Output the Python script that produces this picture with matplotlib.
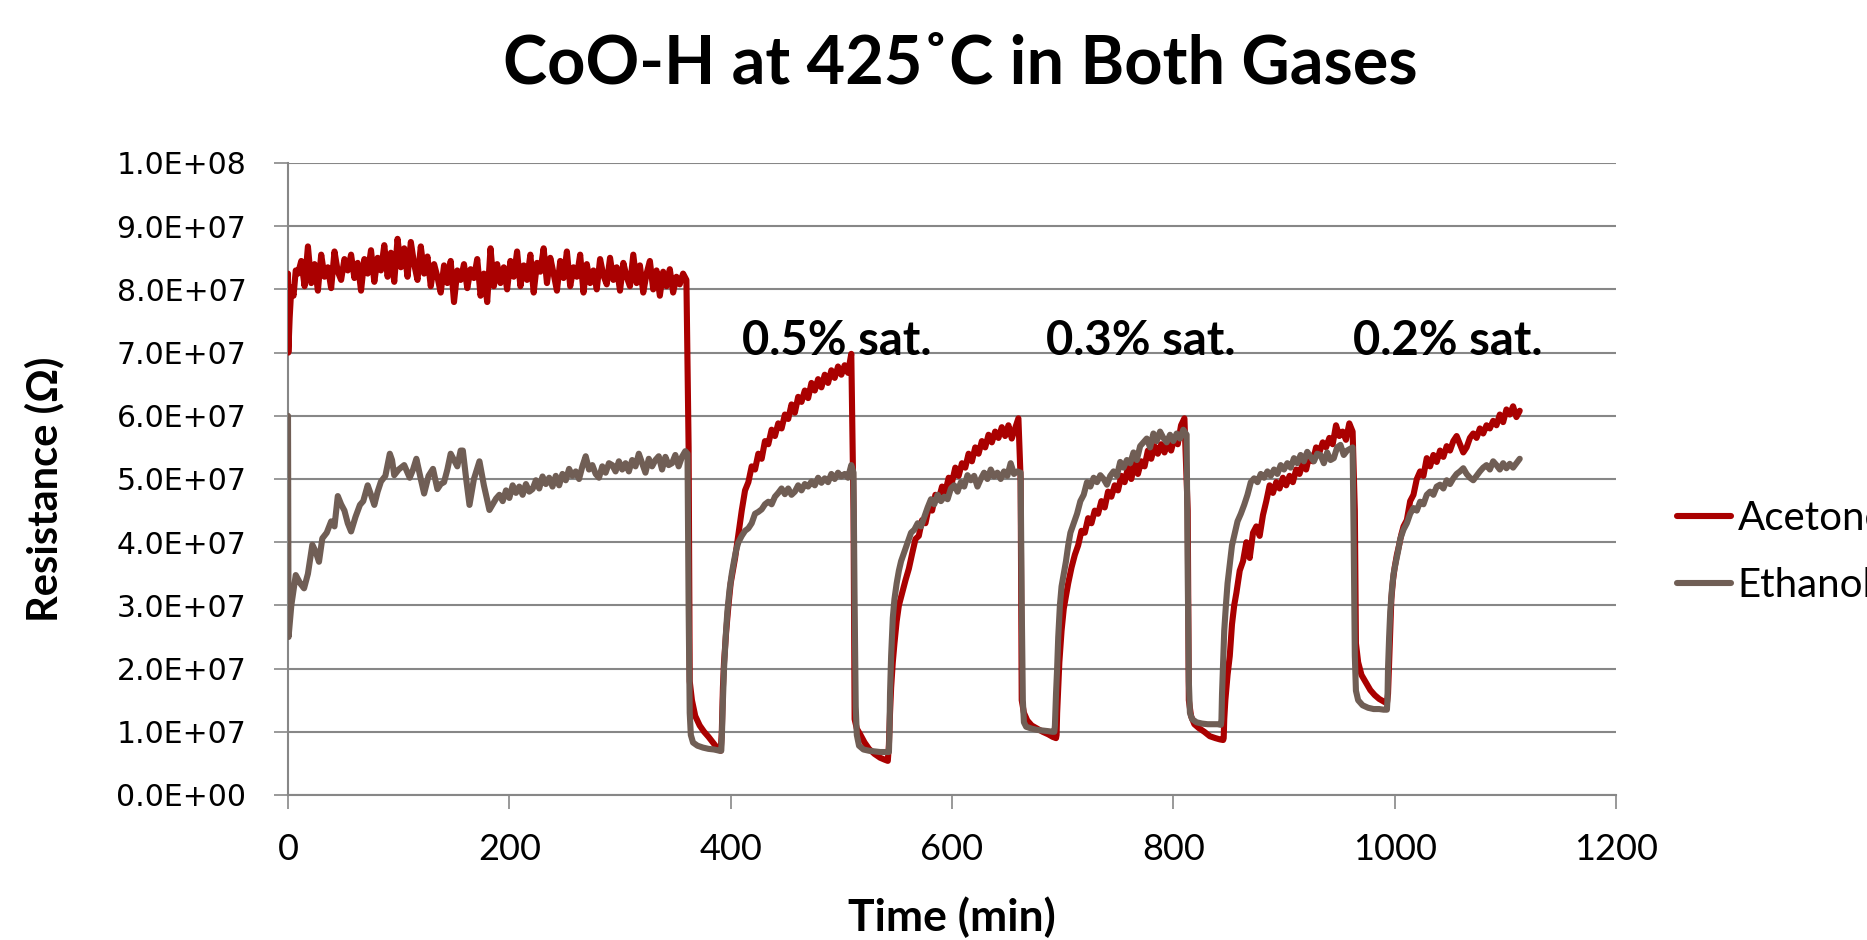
import numpy as np
import matplotlib
matplotlib.use('Agg')
import matplotlib.pyplot as plt

# ---------------- data (resistance in MOhm, time in min) ----------------
ace_start_t = [0, 0.3, 1.5, 3, 5, 7]
ace_start_v = [82.5, 70.0, 75.5, 80.3, 79.0, 83.0]
ace_plateau_span = (9, 360)
ace_plateau_v = [82.5, 84.5, 80.5, 86.8, 81.0, 84.0, 79.8, 85.5, 82.0, 83.5, 80.2, 86.0, 82.8, 81.5, 84.8,
                 83.0, 85.5, 81.8, 84.2, 79.8, 84.8, 82.5, 86.2, 81.2, 85.0, 83.0, 87.0, 82.0, 85.8, 81.2,
                 88.0, 83.5, 86.5, 82.0, 87.5, 84.0, 81.5, 86.8, 82.5, 85.2, 80.5, 84.0, 82.0,
                 79.5, 83.8, 81.0, 84.5, 78.0, 83.0, 81.5, 84.0, 80.2, 83.2, 81.8, 84.8, 79.0, 82.5, 78.0,
                 86.5, 80.5, 84.0, 81.0, 83.5,
                 80.0, 84.5, 82.0, 86.0, 80.5, 83.8, 81.5, 85.5, 79.5, 84.2, 82.8, 86.5, 81.0, 85.0, 82.5,
                 79.8, 84.5, 81.8, 86.0, 80.5, 83.5, 82.0,
                 85.5, 79.5, 84.0, 81.0, 83.0, 80.0, 84.8, 82.2, 80.8, 85.0, 81.5, 83.5, 79.8, 84.2, 82.0,
                 80.5, 85.5, 81.0, 83.8, 79.5, 82.5, 84.5, 80.0, 83.0, 79.0, 82.8, 80.5, 83.2, 79.5, 82.0,
                 80.8, 82.5, 81.5]

# cycle 1
ace_low1_t = [362, 363, 365, 368, 372, 376, 380, 384, 388, 391]
ace_low1_v = [55, 18, 15, 12.5, 11, 10, 9.2, 8.3, 7.4, 7.0]
ace_rise1_t = [392, 393, 394, 396, 398, 400, 402, 404, 406, 408]
ace_rise1_v = [10, 17, 21, 26, 30, 33.5, 35.5, 37.5, 40, 42.5]
ace_slow1_span = (410, 509)
ace_slow1_v = [45.0, 48.2, 49.5, 52.0, 51.5, 54.0, 53.2, 56.0, 55.5, 57.8, 56.8, 58.8, 58.0, 60.2, 59.5,
               61.8, 60.5, 63.0, 62.2, 64.0, 62.8, 65.2, 64.0, 65.8, 64.5, 66.5, 65.2, 67.2, 66.0, 67.8,
               66.5, 68.0, 66.8, 69.8]
# cycle 2
ace_low2_t = [511, 512, 514, 517, 521, 525, 530, 535, 539, 542]
ace_low2_v = [45, 12, 10.5, 9.6, 8.3, 7.3, 6.5, 5.9, 5.6, 5.4]
ace_rise2_t = [543, 544, 545, 546.5, 548, 550, 552, 555, 558, 561]
ace_rise2_v = [8, 13, 17, 21, 24, 27.5, 30, 32, 34, 35.8]
ace_slow2_span = (564, 660)
ace_slow2_v = [38.2, 40.5, 41.0, 43.5, 43.0, 45.5, 45.0, 47.5, 46.8, 48.8, 48.0, 50.2, 49.5, 51.8, 50.5,
               52.5, 51.8, 54.0, 52.8, 55.0, 54.0, 56.0, 55.0, 57.0, 55.8, 57.5, 56.5, 58.2, 56.8, 58.5,
               56.4, 58.0, 59.6]
# cycle 3
ace_low3_t = [662, 663, 665, 668, 672, 677, 682, 687, 691, 694]
ace_low3_v = [50, 15, 13, 11.8, 11, 10.5, 10, 9.6, 9.2, 9.0]
ace_rise3_t = [694.5, 695, 696, 697, 699, 701, 703, 705, 708, 711]
ace_rise3_v = [9.5, 13, 17, 21, 26, 29.5, 31.5, 33.5, 36, 38]
ace_slow3_span = (714, 810)
ace_slow3_v = [39.5, 41.8, 41.5, 43.8, 43.0, 45.0, 44.5, 46.5, 45.5, 48.0, 47.2, 49.0, 48.2, 50.5, 49.5,
               51.8, 50.0, 52.5, 50.8, 52.8, 52.0, 54.5, 53.2, 55.2, 54.0, 55.5, 54.2, 55.8, 54.5, 56.5,
               55.5, 58.5, 59.6]
# cycle 4
ace_low4_t = [813, 814, 816, 819, 823, 828, 833, 838, 842, 845]
ace_low4_v = [45, 15, 12.5, 11.2, 10.6, 10, 9.3, 9.0, 8.8, 8.7]
ace_rise4_t = [845.5, 846, 847, 849, 851, 853, 855, 857, 860, 863]
ace_rise4_v = [9, 12, 15, 19, 22, 27, 30, 32, 35.5, 37]
ace_slow4_span = (866, 962)
ace_slow4_v = [40.0, 37.5, 41.5, 42.5, 41.0, 44.3, 46.5, 49.0, 47.8, 49.5, 48.5, 50.2, 49.0, 50.5, 49.5,
               51.5, 50.8, 52.5, 51.5, 53.8, 52.8, 55.0, 54.2, 55.8, 55.0, 56.5, 55.5, 58.5, 56.8, 57.5,
               56.2, 58.8, 57.5]
# cycle 5
ace_low5_t = [964, 965, 967, 970, 974, 978, 982, 986, 990, 993]
ace_low5_v = [45, 24, 21, 19, 17.8, 16.6, 15.8, 15.2, 14.8, 14.5]
ace_rise5_t = [994, 995, 996, 997, 998.5, 1000, 1002, 1004, 1006, 1008]
ace_rise5_v = [16, 21, 26, 31, 34, 36, 38, 39.5, 41.2, 42.5]
ace_slow5_span = (1011, 1113)
ace_slow5_v = [43.5, 46.5, 47.5, 50.0, 51.2, 50.5, 53.3, 52.0, 53.8, 52.7, 54.5, 53.5, 55.2, 54.5, 56.0,
               56.8, 55.5, 54.2, 55.0, 56.5, 57.2, 56.5, 58.0, 57.2, 58.5, 58.0, 59.2, 58.5, 60.2, 59.0,
               61.0, 60.2, 61.5, 59.8, 60.8]

# Ethanol
eth_early_t = [0, 0.5, 3, 7, 11, 14.5, 18, 22, 25, 28, 31, 35, 39, 42, 45, 48, 51, 54, 57, 61,
               65, 68, 72, 75, 78, 81, 84, 88, 92, 94, 96, 100, 105, 108, 110, 113, 116, 120, 123, 127,
               131, 133, 135, 138, 141, 144, 147, 150, 153, 156, 158, 161, 164, 168, 173, 177, 182, 185, 188]
eth_early_v = [60, 25, 30, 34.8, 33.5, 32.7, 35, 39.6, 38.5, 36.9, 40.6, 41.5, 43.3, 42.5, 47.3, 46, 45, 43, 41.7, 44,
               45.9, 46.5, 49, 47.5, 45.9, 48, 49.6, 50.5, 54, 53, 50.6, 51.5, 52.2, 51, 50.2, 51.5, 53.2, 50, 47.7, 50.5,
               51.6, 50, 48.4, 49.2, 49.5, 51.5, 54, 53, 52, 54.5, 54.5, 50, 45.9, 50, 52.8, 49, 45.1, 46, 46.9]
eth_late_span = (191, 359)
eth_late_v = [47.5, 46.5, 48.2, 47.0, 49.0, 47.8, 48.8, 47.5, 49.2, 48.0, 48.4, 49.8, 48.5, 50.4, 49.2,
              50.2, 48.8, 50.5, 49.0, 50.8, 49.8, 51.6, 50.5, 51.2, 50.0, 52.0, 53.6, 51.5, 52.2, 50.8,
              50.2, 52.0, 51.0, 52.5, 52.2, 51.2, 52.8, 51.5, 52.5, 51.2, 53.0, 52.0, 54.0, 52.5, 51.0,
              53.2, 52.0, 53.0, 53.6, 51.5, 53.5, 52.2, 52.5, 53.8, 52.0, 53.5, 54.4]
eth_low1_t = [361, 362, 363, 364, 366, 370, 375, 380, 385, 390, 391.5]
eth_low1_v = [54, 30, 13, 9.5, 8.3, 7.8, 7.5, 7.3, 7.2, 7.0, 7.0]
eth_rise1_t = [392, 393, 394, 395.5, 397, 399, 401, 403, 405, 407]
eth_rise1_v = [9, 15, 20, 25, 29, 32.5, 35, 37, 38.8, 40]
eth_slow1_span = (410, 509)
eth_slow1_v = [41.0, 41.8, 42.2, 43.0, 44.5, 44.8, 45.2, 46.0, 46.4, 46.0, 47.2, 47.8, 48.5, 47.6, 48.5,
               47.5, 48.0, 49.0, 48.2, 49.2, 48.8, 49.6, 49.0, 50.2, 49.4, 50.1, 49.5, 50.8, 50.0, 51.0,
               50.4, 50.8, 50.2, 52.2]
eth_low2_t = [511, 512, 513, 514, 516, 520, 525, 530, 535, 540, 543]
eth_low2_v = [51, 30, 14, 9.5, 7.8, 7.2, 7.0, 6.9, 6.8, 6.8, 6.8]
eth_rise2_t = [543.5, 544, 545, 546.5, 548, 550, 552, 554, 557, 560]
eth_rise2_v = [10, 16, 22, 28, 31, 33.5, 35.5, 37, 38.5, 40]
eth_slow2_span = (563, 659)
eth_slow2_v = [41.5, 42.0, 43.0, 42.5, 44.0, 45.5, 46.8, 46.0, 47.5, 46.5, 47.2, 46.8, 48.5, 49.0, 48.0,
               49.5, 48.8, 50.6, 49.8, 50.5, 48.8, 50.0, 51.0, 50.0, 51.5, 50.4, 51.0, 50.0, 51.2, 50.5,
               52.5, 50.8, 51.2]
eth_low3_t = [662, 663, 664, 665, 667, 672, 677, 682, 687, 691, 692.5]
eth_low3_v = [51, 30, 15, 11.5, 10.8, 10.5, 10.3, 10.2, 10.1, 10.0, 10.0]
eth_rise3_t = [693, 694, 695, 696, 697.5, 699, 701, 703, 705, 707]
eth_rise3_v = [11, 16, 20, 25, 30, 33, 35, 37, 39.5, 41.5]
eth_slow3_span = (710, 809)
eth_slow3_v = [43.0, 44.5, 46.5, 47.5, 49.5, 48.8, 50.2, 49.5, 50.6, 50.0, 49.1, 50.5, 51.2, 50.5, 52.7,
               51.8, 53.0, 52.5, 54.2, 53.0, 55.2, 55.8, 56.4, 55.0, 57.2, 56.0, 57.5, 56.5, 55.8, 57.0,
               56.0, 57.2, 56.4, 57.8]
eth_low4_t = [812, 813, 814, 815, 817, 821, 826, 831, 836, 840, 843]
eth_low4_v = [57, 35, 18, 13, 12, 11.5, 11.3, 11.2, 11.2, 11.2, 11.1]
eth_rise4_t = [843.5, 844, 845, 846, 847.5, 849, 851, 853, 855, 858]
eth_rise4_v = [12, 16, 21, 26, 30, 33.5, 36.5, 39.5, 41, 43.3]
eth_slow4_span = (861, 960)
eth_slow4_v = [44.5, 45.9, 47.5, 49.5, 50.1, 49.5, 50.8, 50.2, 51.2, 50.5, 51.5, 50.8, 52.2, 51.5, 52.5,
               51.8, 53.3, 52.5, 53.8, 52.8, 54.3, 53.5, 52.8, 54.0, 53.8, 52.5, 54.2, 53.0, 53.3, 55.0,
               55.4, 53.8, 54.5, 54.8]
eth_low5_t = [962, 963, 964, 965, 967, 971, 976, 981, 986, 990, 993]
eth_low5_v = [55, 40, 22, 16.5, 15, 14.2, 13.8, 13.6, 13.6, 13.5, 13.5]
eth_rise5_t = [993.5, 994, 995, 996, 997.5, 999, 1001, 1003, 1005, 1008]
eth_rise5_v = [15, 20, 25, 29, 32.5, 35, 36.8, 38.5, 40.5, 42]
eth_slow5_span = (1011, 1113)
eth_slow5_v = [43.0, 44.5, 45.4, 45.0, 46.4, 46.0, 47.5, 48.0, 47.5, 48.8, 49.1, 48.5, 49.8, 49.2, 50.1,
               50.8, 51.2, 51.7, 50.8, 50.2, 49.8, 50.5, 51.2, 51.8, 52.2, 51.5, 52.8, 52.2, 51.5, 52.5,
               51.7, 52.4, 51.8, 52.5, 53.2]

series_names = ['Acetone', 'Ethanol']
annot_labels = ['0.5% sat.', '0.3% sat.', '0.2% sat.']
annot_t = [496, 771, 1048]
annot_v = [71.9, 71.9, 71.9]
x_ticks = [0, 200, 400, 600, 800, 1000, 1200]
y_ticks = [0, 10, 20, 30, 40, 50, 60, 70, 80, 90, 100]


def build(segments):
    ts, vs = [], []
    for t, v in segments:
        if isinstance(t, tuple):
            t = np.linspace(t[0], t[1], len(v))
        ts.append(np.asarray(t, float))
        vs.append(np.asarray(v, float))
    return np.concatenate(ts), np.concatenate(vs) * 1e6


ace_t, ace_r = build([
    (ace_start_t, ace_start_v), (ace_plateau_span, ace_plateau_v),
    (ace_low1_t, ace_low1_v), (ace_rise1_t, ace_rise1_v), (ace_slow1_span, ace_slow1_v),
    (ace_low2_t, ace_low2_v), (ace_rise2_t, ace_rise2_v), (ace_slow2_span, ace_slow2_v),
    (ace_low3_t, ace_low3_v), (ace_rise3_t, ace_rise3_v), (ace_slow3_span, ace_slow3_v),
    (ace_low4_t, ace_low4_v), (ace_rise4_t, ace_rise4_v), (ace_slow4_span, ace_slow4_v),
    (ace_low5_t, ace_low5_v), (ace_rise5_t, ace_rise5_v), (ace_slow5_span, ace_slow5_v),
])
eth_t, eth_r = build([
    (eth_early_t, eth_early_v), (eth_late_span, eth_late_v),
    (eth_low1_t, eth_low1_v), (eth_rise1_t, eth_rise1_v), (eth_slow1_span, eth_slow1_v),
    (eth_low2_t, eth_low2_v), (eth_rise2_t, eth_rise2_v), (eth_slow2_span, eth_slow2_v),
    (eth_low3_t, eth_low3_v), (eth_rise3_t, eth_rise3_v), (eth_slow3_span, eth_slow3_v),
    (eth_low4_t, eth_low4_v), (eth_rise4_t, eth_rise4_v), (eth_slow4_span, eth_slow4_v),
    (eth_low5_t, eth_low5_v), (eth_rise5_t, eth_rise5_v), (eth_slow5_span, eth_slow5_v),
])

# ---------------- plot ----------------
W, H = 1867, 940
fig = plt.figure(figsize=(W / 100, H / 100), dpi=100)
fig.patch.set_facecolor('white')
ax = fig.add_axes([288 / W, 1 - 795 / H, 1328 / W, 632 / H])

RED = '#AA0000'
BROWN = '#705E55'
GRID = '#878787'
SANS = ['Lato', 'DejaVu Sans']

ax.plot(ace_t, ace_r, color=RED, lw=4.4, solid_joinstyle='round', solid_capstyle='round',
        label=series_names[0], zorder=3)
ax.plot(eth_t, eth_r, color=BROWN, lw=4.4, solid_joinstyle='round', solid_capstyle='round',
        label=series_names[1], zorder=4)

ax.set_xlim(0, 1200)
ax.set_ylim(0, 1e8)
ax.set_xticks(x_ticks)
ax.set_yticks([v * 1e6 for v in y_ticks])
ax.set_yticklabels(['{:.1E}'.format(v * 1e6) for v in y_ticks],
                   fontsize=21.5, family='DejaVu Sans')
ax.set_xticklabels([str(v) for v in x_ticks], fontsize=26, family=SANS)

ax.grid(axis='y', color=GRID, lw=1.5, zorder=0)
ax.set_axisbelow(True)
for s in ['top', 'right']:
    ax.spines[s].set_visible(False)
for s in ['left', 'bottom']:
    ax.spines[s].set_color(GRID)
    ax.spines[s].set_linewidth(1.5)
ax.tick_params(axis='both', direction='out', length=10, width=1.2, color=GRID)
ax.tick_params(axis='y', pad=20)
ax.tick_params(axis='x', pad=17)

ax.set_xlabel('Time (min)', fontsize=32, fontweight='bold', family=SANS)
ax.xaxis.set_label_coords(0.5, -(917 - 795) / 632)
ax.xaxis.label.set_va('center')
ax.set_ylabel('Resistance (Ω)', fontsize=30, fontweight='bold', family=SANS)
ax.yaxis.set_label_coords(-(288 - 44) / 1328, (795 - 489) / 632)
ax.yaxis.label.set_va('center')

for lab, t, v in zip(annot_labels, annot_t, annot_v):
    ax.text(t, v * 1e6, lab, ha='center', va='center', fontsize=34, fontweight='bold',
            family=SANS, zorder=5)

fig.text(960 / W, 1 - 65 / H, 'CoO-H at 425˚C in Both Gases', ha='center', va='center',
         fontsize=48, fontweight='bold', family=SANS)

leg = ax.legend(loc='center left', bbox_to_anchor=(1677 / W, 1 - 552 / H),
                bbox_transform=fig.transFigure, frameon=False,
                prop={'family': SANS, 'size': 29}, handlelength=1.35,
                handletextpad=0.15, labelspacing=0.75, borderpad=0, borderaxespad=0)

fig.savefig('out.png', dpi=100, facecolor='white')
